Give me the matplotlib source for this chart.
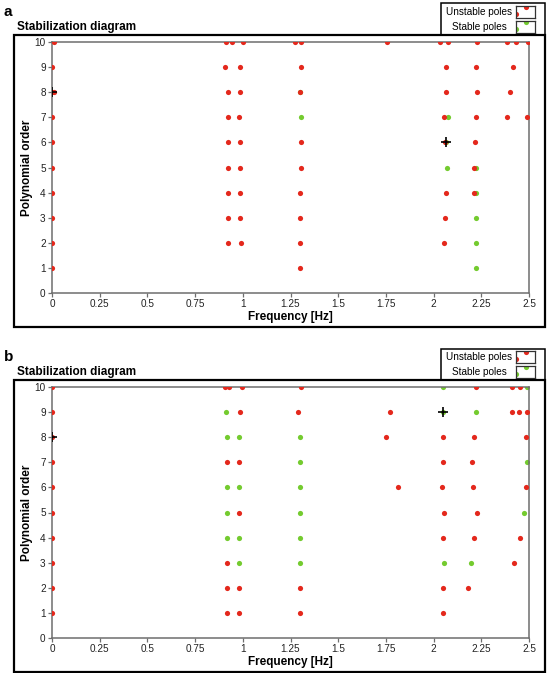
import matplotlib
matplotlib.use("Agg")
import matplotlib.pyplot as plt
from matplotlib.patches import Rectangle

plt.rcParams['font.family'] = ['Liberation Sans', 'DejaVu Sans']

# ---------------- data (frequency [Hz], polynomial order) ----------------
# Panel a
a_unstable_freq = [0.008, 0.911, 0.944, 1.0, 1.272, 1.303, 1.754, 2.034, 2.075, 2.226, 2.385, 2.43, 2.497,
                   0.0, 0.907, 0.985, 1.303, 2.067, 2.22, 2.416,
                   0.0, 0.008, 0.92, 0.983, 1.30, 2.067, 2.229, 2.40,
                   0.0, 0.92, 0.978, 2.055, 2.22, 2.386, 2.489,
                   0.0, 0.92, 0.983, 1.303, 2.06, 2.217,
                   0.0, 0.92, 0.983, 1.303, 2.213,
                   0.0, 0.92, 0.983, 1.30, 2.065, 2.21,
                   0.0, 0.925, 0.983, 1.298, 2.06,
                   0.0, 0.92, 0.99, 1.298, 2.056,
                   0.0, 1.298]
a_unstable_order = [10] * 13 + [9] * 7 + [8] * 8 + [7] * 7 + [6] * 6 + [5] * 5 + [4] * 6 + [3] * 5 + [2] * 5 + [1] * 2
a_stable_freq = [1.302, 1.303, 2.074, 2.067, 2.072, 2.222, 2.224, 2.222, 2.222, 2.222]
a_stable_order = [8, 7, 7, 6, 5, 5, 4, 3, 2, 1]
a_marker_freq = [0.0, 2.067]
a_marker_order = [8, 6]

# Panel b
b_unstable_freq = [0.0, 0.907, 0.928, 0.996, 1.303, 2.222, 2.413, 2.455,
                   0.0, 0.985, 1.291, 1.77, 2.41, 2.446, 2.49,
                   0.0, 1.749, 2.051, 2.213, 2.486,
                   0.0, 0.919, 0.982, 2.051, 2.203,
                   0.0, 1.812, 2.044, 2.207, 2.486,
                   0.0, 0.982, 2.056, 2.229,
                   0.0, 2.051, 2.21, 2.453,
                   0.0, 0.919, 2.42,
                   0.0, 0.919, 0.982, 1.298, 2.051, 2.18,
                   0.0, 0.919, 0.982, 1.298, 2.048]
b_unstable_order = [10] * 8 + [9] * 7 + [8] * 5 + [7] * 5 + [6] * 5 + [5] * 4 + [4] * 4 + [3] * 3 + [2] * 6 + [1] * 5
b_stable_freq = [2.05, 2.49,
                 0.914, 2.05, 2.222,
                 0.919, 0.982, 1.298,
                 1.298, 2.49,
                 0.919, 0.982, 1.298,
                 0.919, 1.298, 2.472,
                 0.919, 0.982, 1.298,
                 0.982, 1.298, 2.056, 2.194]
b_stable_order = [10] * 2 + [9] * 3 + [8] * 3 + [7] * 2 + [6] * 3 + [5] * 3 + [4] * 3 + [3] * 4
b_marker_freq = [0.0, 2.05]
b_marker_order = [8, 9]

x_ticks = [0, 0.25, 0.5, 0.75, 1, 1.25, 1.5, 1.75, 2, 2.25, 2.5]
x_ticklabels = ['0', '0.25', '0.5', '0.75', '1', '1.25', '1.5', '1.75', '2', '2.25', '2.5']
y_ticks = list(range(0, 11))

RED = '#e4281c'
GREEN = '#74cb2f'
SPINE = '#6e6e6e'

W, H = 548, 673
fig = plt.figure(figsize=(W / 100, H / 100), dpi=100)


def fx(px):
    return px / W


def fy(py):
    return 1 - py / H


def panel(top, label, uf, uo, sf, so, mf, mo):
    bottom = top + 292 if label == 'a' else 672
    # outer frame
    fig.patches.append(Rectangle((fx(13.5), fy(bottom)), fx(545) - fx(13.5), fy(top) - fy(bottom),
                                 transform=fig.transFigure, fill=False, lw=1.6,
                                 edgecolor='black', zorder=0))
    fig.text(fx(4), fy(top - 23), label, fontsize=11, fontweight='bold', va='center', ha='left')
    fig.text(fx(17), fy(top - 8), 'Stabilization diagram', fontsize=8.5, fontweight='bold',
             va='center', ha='left')
    # legend box
    fig.patches.append(Rectangle((fx(441), fy(top - 0.5)), fx(545) - fx(441), fy(top - 31.5) - fy(top - 0.5),
                                 transform=fig.transFigure, fill=False, lw=1.1, edgecolor='black', zorder=0))
    for i, (txt, col) in enumerate([('Unstable poles', RED), ('Stable poles', GREEN)]):
        cy = top - 23 + 15 * i
        fig.text(fx(479), fy(cy), txt, fontsize=7.2, ha='center', va='center')
        sax = fig.add_axes([fx(516), fy(cy + 6), fx(19), fy(cy - 6) - fy(cy + 6)])
        sax.set_xlim(0, 1)
        sax.set_ylim(0, 1)
        sax.set_xticks([])
        sax.set_yticks([])
        for s in sax.spines.values():
            s.set_linewidth(0.9)
            s.set_color('#333333')
        sax.scatter([0.55, 0.0], [0.95, 0.3], s=14, color=col, linewidths=0)

    # axes
    ax = fig.add_axes([fx(52), fy(top + 258), fx(529) - fx(52), fy(top + 7) - fy(top + 258)])
    ax.scatter(sf, so, s=14, color=GREEN, linewidths=0, zorder=2)
    ax.scatter(uf, uo, s=14, color=RED, linewidths=0, zorder=3)
    ax.scatter(mf, mo, s=55, marker='+', color='black', linewidths=1.2, zorder=4)
    ax.set_xlim(0, 2.5)
    ax.set_ylim(0, 10)
    ax.set_xticks(x_ticks)
    ax.set_xticklabels(x_ticklabels)
    ax.set_yticks(y_ticks)
    for s in ax.spines.values():
        s.set_color(SPINE)
        s.set_linewidth(1.1)
    ax.tick_params(direction='out', length=3, width=0.9, color=SPINE, labelsize=7.2,
                   labelcolor='#222222', pad=1.5)
    ax.set_xlabel('Frequency [Hz]', fontsize=8.5, fontweight='bold', labelpad=1)
    ax.set_ylabel('Polynomial order', fontsize=8.5, fontweight='bold', labelpad=1)
    return ax


panel(35, 'a', a_unstable_freq, a_unstable_order, a_stable_freq, a_stable_order, a_marker_freq, a_marker_order)
panel(380, 'b', b_unstable_freq, b_unstable_order, b_stable_freq, b_stable_order, b_marker_freq, b_marker_order)

fig.savefig('out.png', dpi=100)
